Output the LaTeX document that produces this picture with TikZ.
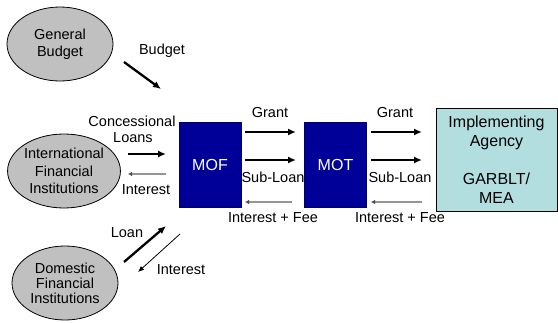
\documentclass[tikz,border=0pt]{standalone}
\usepackage{fontspec}
\setmainfont{Liberation Sans}
\usetikzlibrary{shapes.geometric,arrows.meta}
\definecolor{boxblue}{RGB}{0,0,153}
\definecolor{agency}{RGB}{178,222,224}
\definecolor{ellgray}{RGB}{192,192,192}
\definecolor{retgray}{RGB}{150,150,150}
\tikzset{
  src/.style={ellipse,draw=black,line width=0.8pt,fill=ellgray,minimum width=106pt,minimum height=74pt,inner sep=0pt,align=center,font=\fontsize{14.5}{17}\selectfont},
  ministry/.style={rectangle,fill=boxblue,draw=boxblue!70!black,line width=0.6pt,minimum width=62pt,minimum height=85pt,inner sep=0pt,text=white,font=\fontsize{16}{19}\selectfont},
  lbl/.style={inner sep=0pt,align=center,font=\fontsize{14.5}{17}\selectfont},
  fwd/.style={line width=2.3pt,-{Latex[length=8pt,width=7pt]}},
  back/.style={line width=1.6pt,draw=retgray,-{Latex[length=4pt,width=4.5pt,color=black!70]}},
  thinback/.style={line width=0.8pt,-{Latex[length=6pt,width=5pt]}}
}
\begin{document}
\begin{tikzpicture}[x=1pt,y=-1pt]
\useasboundingbox (0,0) rectangle (558,322);
% sources
\node[src] (gb) at (60,44) {General\\Budget};
\node[src,font=\fontsize{14.5}{17.5}\selectfont] (ifi) at (64,171) {International\\Financial\\Institutions};
\node[src,font=\fontsize{14.5}{15}\selectfont] (dfi) at (65,283) {Domestic\\Financial\\Institutions};
% boxes
\node[ministry] (mof) at (210,164.5) {MOF};
\node[ministry] (mot) at (335.5,164.5) {MOT};
\node[rectangle,draw=black,line width=0.8pt,fill=agency,minimum width=121pt,minimum height=103pt,inner sep=0pt,align=center,font=\fontsize{16}{19}\selectfont] (ia) at (496.5,159.5) {Implementing\\Agency\\[19pt]GARBLT/\\MEA};
% arrow endpoints
\coordinate (b1) at (124,62); \coordinate (b2) at (161,89);
\coordinate (c1) at (128,154); \coordinate (c2) at (166,154);
\coordinate (i1) at (166,174); \coordinate (i2) at (128,174);
\coordinate (l1) at (124,262); \coordinate (l2) at (166,226);
\coordinate (d1) at (180,234); \coordinate (d2) at (138,272);
\coordinate (g1) at (245,132); \coordinate (g2) at (296,132);
\coordinate (s1) at (245,160); \coordinate (s2) at (296,160);
\coordinate (f1) at (292,202); \coordinate (f2) at (245,202);
\coordinate (g3) at (371,132); \coordinate (g4) at (422,132);
\coordinate (s3) at (371,160); \coordinate (s4) at (422,160);
\coordinate (f3) at (422,202); \coordinate (f4) at (371,202);
% arrows
\draw[fwd] (b1) -- (b2);
\draw[fwd] (c1) -- (c2);
\draw[back] (i1) -- (i2);
\draw[fwd] (l1) -- (l2);
\draw[thinback] (d1) -- (d2);
\draw[fwd] (g1) -- (g2);
\draw[fwd] (s1) -- (s2);
\draw[back] (f1) -- (f2);
\draw[fwd] (g3) -- (g4);
\draw[fwd] (s3) -- (s4);
\draw[back] (f3) -- (f4);
% labels
\node[lbl] (lb) at (162,51) {Budget};
\node[lbl] (lc1) at (132,121) {Concessional};
\node[lbl] (lc2) at (133,138) {Loans};
\node[lbl] (li) at (146,190) {Interest};
\node[lbl] (ll) at (127,233) {Loan};
\node[lbl] (ldi) at (181,270) {Interest};
\node[lbl] (lg1) at (270,113) {Grant};
\node[lbl] (ls1) at (273,177) {Sub-Loan};
\node[lbl] (lf1) at (273,218) {Interest + Fee};
\node[lbl] (lg2) at (395,113) {Grant};
\node[lbl] (ls2) at (400,177) {Sub-Loan};
\node[lbl] (lf2) at (400,218) {Interest + Fee};
\end{tikzpicture}
\end{document}
